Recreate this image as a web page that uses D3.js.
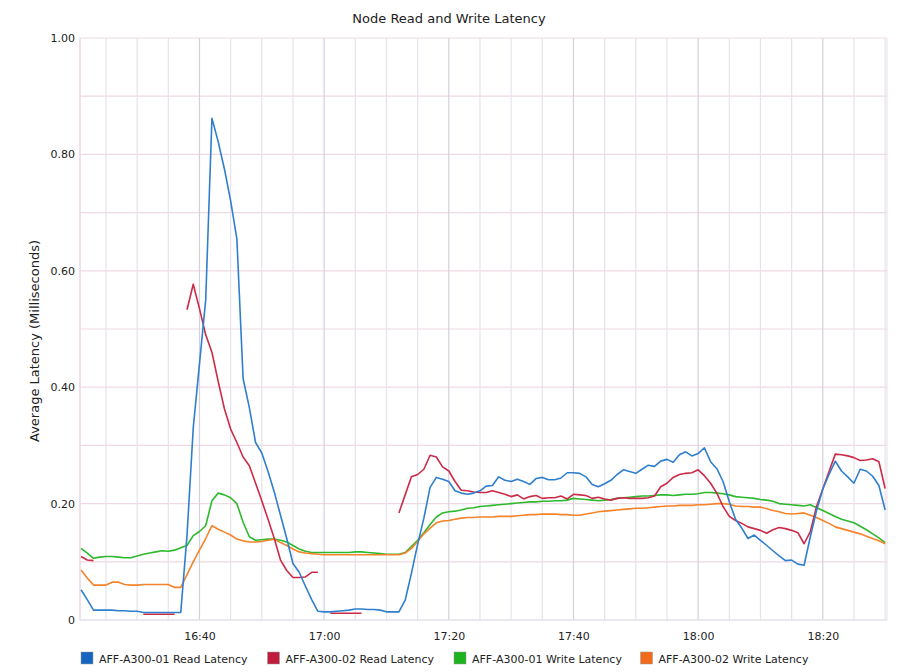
<!DOCTYPE html>
<html>
<head>
<meta charset="utf-8">
<script src="https://cdn.jsdelivr.net/npm/d3@7"></script>
<style>
  body { margin: 0; background: #fff; }
  text { font-family: "DejaVu Sans", Verdana, sans-serif; fill: #222; }
</style>
</head>
<body>
<div class="canvas"></div>
<script>
// one sample per minute, starting 16:21
const startTime = "16:21"
const seriesNames = [
    'AFF-A300-01 Read Latency',
    'AFF-A300-02 Read Latency',
    'AFF-A300-01 Write Latency',
    'AFF-A300-02 Write Latency'
]
const yTicks = [0, 0.2, 0.4, 0.6, 0.8, 1.0]
const xTickLabels = ["16:40", "17:00", "17:20", "17:40", "18:00", "18:20"]

const read01 = [
    0.052, 0.035, 0.017, 0.017, 0.017, 0.017, 0.016, 0.016, 0.015, 0.015,
    0.013, 0.013, 0.013, 0.013, 0.013, 0.013, 0.013, 0.145, 0.330, 0.440,
    0.550, 0.862, 0.822, 0.775, 0.720, 0.655, 0.415, 0.365, 0.305, 0.287,
    0.255, 0.220, 0.180, 0.140, 0.097, 0.082, 0.058, 0.035, 0.015, 0.014,
    0.014, 0.015, 0.016, 0.017, 0.019, 0.019, 0.018, 0.018, 0.017, 0.014,
    0.014, 0.014, 0.034, 0.080, 0.130, 0.175, 0.228, 0.245, 0.242, 0.238,
    0.222, 0.218, 0.216, 0.218, 0.222, 0.230, 0.231, 0.246, 0.240, 0.238,
    0.242, 0.238, 0.233, 0.243, 0.245, 0.241, 0.241, 0.244, 0.253, 0.253,
    0.252, 0.246, 0.233, 0.229, 0.234, 0.240, 0.250, 0.258, 0.255, 0.252,
    0.259, 0.266, 0.264, 0.273, 0.276, 0.271, 0.284, 0.289, 0.282, 0.286,
    0.296, 0.272, 0.260, 0.238, 0.203, 0.173, 0.158, 0.140, 0.146, 0.137,
    0.128, 0.119, 0.110, 0.102, 0.103, 0.096, 0.094, 0.143, 0.188, 0.225,
    0.250, 0.273, 0.256, 0.246, 0.235, 0.259, 0.256, 0.247, 0.231, 0.189
]

const read02 = [
    0.109, 0.103, 0.102, null, null, null, null, null, null, null,
    0.010, 0.010, 0.010, 0.010, 0.010, 0.010, null, 0.533, 0.577, 0.535,
    0.490, 0.460, 0.410, 0.363, 0.328, 0.305, 0.280, 0.265, 0.235, 0.205,
    0.173, 0.140, 0.103, 0.085, 0.073, 0.073, 0.074, 0.082, 0.082, null,
    0.0115, 0.0115, 0.0115, 0.0115, 0.0115, 0.0115, null, null, null, null,
    null, 0.184, 0.215, 0.246, 0.250, 0.259, 0.283, 0.280, 0.263, 0.256,
    0.238, 0.223, 0.222, 0.220, 0.219, 0.219, 0.222, 0.219, 0.216, 0.212,
    0.215, 0.208, 0.212, 0.214, 0.209, 0.210, 0.210, 0.213, 0.208, 0.216,
    0.215, 0.214, 0.209, 0.211, 0.208, 0.206, 0.209, 0.210, 0.209, 0.209,
    0.209, 0.210, 0.213, 0.229, 0.235, 0.245, 0.250, 0.252, 0.253, 0.258,
    0.248, 0.235, 0.218, 0.195, 0.178, 0.171, 0.166, 0.160, 0.157, 0.154,
    0.149, 0.155, 0.159, 0.157, 0.154, 0.150, 0.131, 0.152, 0.195, 0.225,
    0.255, 0.285, 0.284, 0.282, 0.279, 0.274, 0.275, 0.277, 0.272, 0.226
]

const write01 = [
    0.123, 0.115, 0.106, 0.108, 0.109, 0.109, 0.108, 0.107, 0.107, 0.110,
    0.113, 0.115, 0.117, 0.119, 0.118, 0.120, 0.124, 0.128, 0.145, 0.152,
    0.162, 0.205, 0.218, 0.215, 0.210, 0.200, 0.168, 0.143, 0.137, 0.138,
    0.139, 0.139, 0.137, 0.134, 0.128, 0.122, 0.118, 0.116, 0.116, 0.116,
    0.116, 0.116, 0.116, 0.116, 0.117, 0.117, 0.116, 0.115, 0.114, 0.113,
    0.113, 0.113, 0.116, 0.126, 0.137, 0.150, 0.164, 0.177, 0.184, 0.186,
    0.187, 0.189, 0.192, 0.193, 0.195, 0.196, 0.197, 0.198, 0.199, 0.200,
    0.201, 0.202, 0.203, 0.203, 0.204, 0.204, 0.205, 0.205, 0.206, 0.209,
    0.208, 0.207, 0.206, 0.205, 0.206, 0.207, 0.209, 0.210, 0.211, 0.212,
    0.213, 0.213, 0.214, 0.215, 0.215, 0.214, 0.215, 0.216, 0.216, 0.217,
    0.219, 0.219, 0.218, 0.217, 0.215, 0.212, 0.211, 0.210, 0.209, 0.207,
    0.206, 0.204, 0.200, 0.199, 0.198, 0.197, 0.196, 0.198, 0.193, 0.188,
    0.183, 0.178, 0.173, 0.170, 0.167, 0.161, 0.155, 0.148, 0.141, 0.133
]

const write02 = [
    0.086, 0.072, 0.060, 0.060, 0.060, 0.065, 0.065, 0.061, 0.060, 0.060,
    0.061, 0.061, 0.061, 0.061, 0.061, 0.056, 0.056, 0.078, 0.100, 0.120,
    0.140, 0.162, 0.156, 0.151, 0.146, 0.139, 0.136, 0.134, 0.134, 0.135,
    0.137, 0.139, 0.133, 0.128, 0.122, 0.117, 0.115, 0.114, 0.113, 0.112,
    0.112, 0.112, 0.112, 0.112, 0.112, 0.112, 0.112, 0.112, 0.112, 0.112,
    0.112, 0.112, 0.115, 0.123, 0.135, 0.148, 0.158, 0.167, 0.170, 0.171,
    0.173, 0.175, 0.176, 0.176, 0.177, 0.177, 0.177, 0.178, 0.178, 0.178,
    0.179, 0.180, 0.181, 0.181, 0.182, 0.182, 0.182, 0.181, 0.181, 0.180,
    0.180, 0.182, 0.184, 0.186, 0.187, 0.188, 0.189, 0.190, 0.191, 0.192,
    0.192, 0.193, 0.194, 0.195, 0.196, 0.196, 0.197, 0.197, 0.197, 0.198,
    0.198, 0.199, 0.200, 0.200, 0.199, 0.196, 0.195, 0.195, 0.194, 0.194,
    0.191, 0.188, 0.186, 0.183, 0.182, 0.183, 0.184, 0.180, 0.176, 0.171,
    0.166, 0.160, 0.157, 0.154, 0.151, 0.148, 0.144, 0.140, 0.136, 0.131
]

const lineColors = ['#2f7fcf', '#cc2b48', '#2eb82e', '#f5832a']
const swatchColors = ['#1565c0', '#c01c3c', '#1db31d', '#f26a1b']

const dims = { width: 898, height: 672 }
const plot = { left: 80, right: 887, top: 38, bottom: 620 }

const parse = d3.timeParse('%H:%M')
const t0 = parse(startTime)
const times = read01.map((_, i) => d3.timeMinute.offset(t0, i))

const svg = d3.select('.canvas')
    .append('svg')
    .attr('width', dims.width)
    .attr('height', dims.height)

// a few seconds of padding on each side, like the original
const x = d3.scaleTime()
    .domain([d3.timeSecond.offset(times[0], -10), d3.timeSecond.offset(times[times.length - 1], 18)])
    .range([plot.left, plot.right])

const y = d3.scaleLinear()
    .domain([0, 1])
    .range([plot.bottom, plot.top])

// grid
const grid = svg.append('g')

grid.selectAll('line.hgrid')
    .data(d3.range(1, 11).map(d => d / 10))
    .enter().append('line')
        .attr('x1', plot.left).attr('x2', plot.right)
        .attr('y1', d => y(d)).attr('y2', d => y(d))
        .attr('stroke', '#efd9e6')
        .attr('stroke-width', 1.2)

const minorTicks = x.ticks(d3.timeMinute.every(5))
grid.selectAll('line.vgrid')
    .data(minorTicks)
    .enter().append('line')
        .attr('x1', d => x(d)).attr('x2', d => x(d))
        .attr('y1', plot.top).attr('y2', plot.bottom)
        .attr('stroke', d => d.getMinutes() % 20 === 0 ? '#d4d0dc' : '#e6e2ec')
        .attr('stroke-width', 1.2)

// frame
svg.append('line')
    .attr('x1', plot.left).attr('x2', plot.left)
    .attr('y1', plot.top).attr('y2', plot.bottom)
    .attr('stroke', '#ecd6e4').attr('stroke-width', 1.5)
svg.append('line')
    .attr('x1', plot.left).attr('x2', plot.right)
    .attr('y1', plot.bottom).attr('y2', plot.bottom)
    .attr('stroke', '#e2e2e8').attr('stroke-width', 1.5)
svg.append('line')
    .attr('x1', plot.right).attr('x2', plot.right)
    .attr('y1', plot.top).attr('y2', plot.bottom)
    .attr('stroke', '#eae4ee').attr('stroke-width', 1.2)

// y axis
const yAxis = d3.axisLeft(y)
    .tickValues(yTicks)
    .tickSize(0)
    .tickPadding(5)
    .tickFormat(d => d === 0 ? '0' : d3.format('.2f')(d))

svg.append('g')
    .attr('transform', `translate(${plot.left}, 0)`)
    .call(yAxis)
    .call(g => g.select('.domain').remove())
    .selectAll('text')
        .style('font-size', '11px')
        .style('font-family', '"DejaVu Sans", sans-serif')
        .attr('fill', '#222')

// x axis
const xAxis = d3.axisBottom(x)
    .tickValues(xTickLabels.map(parse))
    .tickSize(0)
    .tickPadding(12)
    .tickFormat(d3.timeFormat('%H:%M'))

svg.append('g')
    .attr('transform', `translate(0, ${plot.bottom})`)
    .call(xAxis)
    .call(g => g.select('.domain').remove())
    .selectAll('text')
        .style('font-size', '11px')
        .style('font-family', '"DejaVu Sans", sans-serif')
        .attr('fill', '#222')

// title and axis label
svg.append('text')
    .attr('x', 449).attr('y', 23)
    .attr('text-anchor', 'middle')
    .style('font-size', '13px')
    .text('Node Read and Write Latency')

svg.append('text')
    .attr('transform', `translate(39, ${(plot.top + plot.bottom) / 2 + 12}) rotate(-90)`)
    .attr('text-anchor', 'middle')
    .style('font-size', '13px')
    .text('Average Latency (Milliseconds)')

// lines
const series = [read01, read02, write01, write02]

const line = d3.line()
    .defined(d => d != null)
    .x((d, i) => x(times[i]))
    .y(d => y(d))

svg.append('g')
    .selectAll('path')
    .data([2, 3, 1, 0])
    .enter().append('path')
        .attr('d', i => line(series[i]))
        .attr('fill', 'none')
        .attr('stroke', i => lineColors[i])
        .attr('stroke-width', 1.6)
        .attr('stroke-linejoin', 'round')

// legend
const legend = svg.append('g')
    .attr('transform', `translate(81, 652)`)

const items = legend.selectAll('g')
    .data(seriesNames)
    .enter().append('g')
        .attr('transform', (d, i) => `translate(${i * 186.5}, 0)`)

items.append('rect')
    .attr('width', 12).attr('height', 12)
    .attr('fill', (d, i) => swatchColors[i])
    .attr('stroke', '#999')
    .attr('stroke-width', 0.5)

items.append('text')
    .attr('x', 18).attr('y', 10.5)
    .style('font-size', '11px')
    .text(d => d)
</script>
</body>
</html>
